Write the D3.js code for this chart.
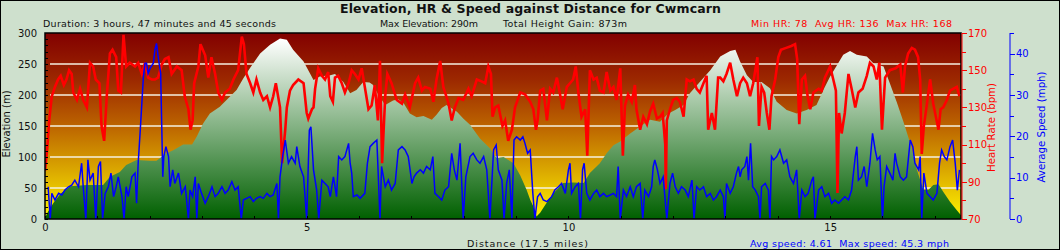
<!DOCTYPE html>
<html>
<head>
<meta charset="utf-8">
<script src="https://cdn.jsdelivr.net/npm/d3@7"></script>
<style>
body{margin:0;background:#fff}
svg{display:block;font-family:"DejaVu Sans",Verdana,sans-serif}
.tick line{shape-rendering:crispEdges}
</style>
</head>
<body>
<svg id="graph1"></svg>
<script>
// elevation profile (miles, metres)
var elevDist=[0,0.06,0.16,0.3,0.48,0.8,1.11,1.24,1.43,1.55,1.75,2.0,2.13,2.32,2.45,2.64,2.81,2.9,3.02,3.15,3.34,3.53,3.66,3.79,3.92,4.11,4.3,4.49,4.62,4.74,4.94,5.13,5.25,5.45,5.54,5.7,5.83,5.95,6.08,6.2,6.27,6.37,6.5,6.65,6.75,6.85,6.97,7.1,7.23,7.39,7.48,7.58,7.67,7.87,7.99,8.12,8.31,8.5,8.63,8.76,8.95,9.08,9.2,9.27,9.33,9.39,9.46,9.59,9.71,9.9,10.09,10.29,10.41,10.6,10.73,10.86,10.99,11.18,11.37,11.56,11.75,11.91,12.04,12.2,12.32,12.51,12.71,12.9,13.09,13.19,13.28,13.41,13.53,13.69,13.85,13.98,14.17,14.36,14.55,14.74,14.87,15.0,15.13,15.25,15.38,15.51,15.7,15.83,16.02,16.14,16.27,16.4,16.53,16.66,16.78,16.88,16.97,17.07,17.16,17.29,17.42,17.5]
var elevation=[2,12,26,41,53,55,55,68,76,87,95,94,94,106,111,120,120,133,154,170,181,197,208,227,244,267,281,291,289,273,254,224,230,232,234,221,203,208,221,220,216,200,184,191,193,187,170,164,166,160,168,179,184,173,162,152,130,114,98,100,90,70,47,31,20,4,10,27,41,58,59,58,74,90,106,119,125,138,149,160,157,170,176,184,203,221,240,262,271,273,254,232,221,221,211,189,176,170,176,184,208,230,248,265,271,265,262,251,246,219,189,157,122,79,47,47,55,56,44,28,14,6]

// heart rate (miles, bpm)
var hrDist=[0,0.04,0.08,0.13,0.19,0.25,0.3,0.36,0.41,0.46,0.51,0.54,0.61,0.67,0.73,0.8,0.86,0.92,0.97,1.04,1.08,1.13,1.18,1.24,1.29,1.36,1.4,1.45,1.5,1.55,1.62,1.72,1.78,1.85,1.91,1.97,2.04,2.1,2.16,2.23,2.29,2.36,2.42,2.52,2.61,2.67,2.74,2.78,2.82,2.85,2.93,2.97,3.06,3.12,3.18,3.25,3.31,3.38,3.44,3.53,3.6,3.69,3.76,3.8,3.85,3.92,3.98,4.04,4.11,4.17,4.24,4.3,4.36,4.41,4.49,4.53,4.59,4.62,4.68,4.74,4.84,4.94,5.0,5.03,5.1,5.13,5.16,5.22,5.29,5.35,5.41,5.45,5.5,5.54,5.6,5.67,5.73,5.8,5.86,5.92,5.99,6.05,6.11,6.18,6.24,6.3,6.36,6.4,6.44,6.5,6.54,6.62,6.72,6.82,6.88,6.97,7.07,7.13,7.2,7.26,7.36,7.42,7.48,7.55,7.61,7.71,7.77,7.83,7.9,7.99,8.09,8.15,8.25,8.34,8.41,8.47,8.52,8.55,8.6,8.66,8.74,8.79,8.85,8.92,8.98,9.08,9.17,9.27,9.33,9.38,9.41,9.46,9.52,9.59,9.65,9.71,9.78,9.84,9.89,9.97,10.03,10.09,10.14,10.19,10.25,10.32,10.36,10.41,10.48,10.54,10.6,10.67,10.73,10.8,10.86,10.92,10.99,11.04,11.08,11.14,11.21,11.27,11.3,11.37,11.43,11.5,11.56,11.62,11.69,11.75,11.8,11.85,11.86,11.88,11.94,12.0,12.07,12.13,12.2,12.26,12.32,12.39,12.45,12.51,12.58,12.64,12.67,12.74,12.8,12.86,12.9,12.96,13.02,13.09,13.15,13.22,13.28,13.34,13.41,13.47,13.53,13.61,13.64,13.69,13.74,13.79,13.84,13.88,13.95,14.01,14.06,14.16,14.26,14.33,14.37,14.41,14.46,14.52,14.57,14.62,14.68,14.78,14.84,14.9,15.0,15.06,15.11,15.14,15.17,15.22,15.28,15.35,15.41,15.48,15.54,15.62,15.7,15.76,15.83,15.89,15.94,15.99,16.05,16.14,16.25,16.34,16.39,16.43,16.49,16.56,16.62,16.68,16.72,16.75,16.79,16.84,16.91,16.97,17.02,17.07,17.11,17.16,17.23,17.29,17.35,17.42,17.47]
var heartRate=[96,107,123,136,141,145,147,142,145,150,148,138,134,140,134,130,154,152,145,143,120,112,136,159,161,157,139,138,169,152,154,152,154,148,154,146,145,145,146,153,156,157,148,152,150,136,129,118,123,143,152,164,158,146,157,148,138,134,138,140,145,150,168,164,148,143,138,145,138,134,136,130,136,143,130,100,118,130,139,142,145,143,127,124,129,130,140,151,147,145,149,136,133,146,147,143,138,143,150,148,145,151,141,129,131,142,123,155,100,136,148,143,134,132,137,130,143,146,139,141,140,133,145,155,141,132,123,130,135,134,140,136,145,144,143,152,148,125,130,131,120,123,112,118,130,138,137,133,129,118,123,139,140,123,140,138,146,137,129,141,143,145,152,138,125,129,104,150,145,146,139,138,149,139,141,134,151,104,131,137,133,142,129,118,125,121,128,132,124,125,127,110,86,123,129,134,135,133,125,145,144,145,140,138,143,147,118,127,118,146,146,144,148,154,145,136,143,146,143,136,143,157,120,141,138,127,118,136,145,157,161,162,163,164,156,121,145,147,136,129,138,140,139,146,152,145,139,84,127,116,127,148,140,130,138,140,147,154,152,145,154,118,146,150,151,153,138,152,159,162,161,157,145,105,120,130,145,132,125,118,129,130,134,139,140,141,136]

// average speed (miles, mph)
var speedDist=[0.06,0.1,0.13,0.19,0.26,0.32,0.38,0.45,0.51,0.57,0.64,0.7,0.73,0.78,0.82,0.86,0.92,0.97,1.02,1.06,1.1,1.15,1.21,1.26,1.31,1.36,1.4,1.47,1.51,1.55,1.59,1.66,1.72,1.75,1.78,1.82,1.85,1.88,1.91,1.94,1.97,2.01,2.07,2.1,2.13,2.17,2.21,2.25,2.27,2.31,2.36,2.39,2.44,2.48,2.55,2.61,2.68,2.74,2.77,2.82,2.87,2.9,2.93,2.99,3.06,3.12,3.19,3.25,3.31,3.38,3.44,3.5,3.57,3.63,3.69,3.75,3.79,3.85,3.92,3.98,4.04,4.11,4.17,4.24,4.3,4.36,4.43,4.46,4.49,4.54,4.59,4.65,4.71,4.78,4.81,4.87,4.94,5.0,5.05,5.08,5.13,5.19,5.23,5.29,5.35,5.41,5.45,5.51,5.57,5.61,5.67,5.73,5.8,5.83,5.86,5.89,5.96,6.02,6.11,6.16,6.21,6.27,6.34,6.4,6.43,6.5,6.56,6.62,6.69,6.75,6.82,6.88,6.94,7.01,7.05,7.1,7.17,7.23,7.29,7.36,7.41,7.45,7.52,7.58,7.64,7.71,7.77,7.82,7.87,7.93,7.99,8.04,8.12,8.18,8.25,8.31,8.38,8.44,8.5,8.57,8.62,8.66,8.73,8.77,8.82,8.87,8.92,8.96,9.01,9.08,9.13,9.17,9.22,9.27,9.32,9.36,9.41,9.46,9.52,9.59,9.68,9.74,9.81,9.87,9.94,10.0,10.03,10.06,10.13,10.19,10.23,10.27,10.3,10.35,10.41,10.48,10.54,10.6,10.67,10.73,10.8,10.86,10.92,10.95,10.99,11.05,11.11,11.18,11.24,11.3,11.37,11.42,11.46,11.53,11.59,11.62,11.65,11.7,11.75,11.81,11.88,11.94,11.99,12.04,12.1,12.16,12.23,12.29,12.36,12.4,12.45,12.51,12.58,12.64,12.71,12.77,12.83,12.9,12.96,12.99,13.02,13.09,13.15,13.21,13.25,13.28,13.31,13.37,13.41,13.44,13.48,13.52,13.57,13.63,13.66,13.69,13.76,13.82,13.85,13.88,13.92,13.98,14.04,14.11,14.17,14.23,14.3,14.36,14.41,14.46,14.52,14.58,14.65,14.68,14.71,14.78,14.84,14.9,14.97,15.03,15.09,15.16,15.22,15.28,15.35,15.41,15.48,15.51,15.54,15.6,15.65,15.7,15.76,15.81,15.86,15.9,15.95,16.0,16.03,16.08,16.14,16.2,16.24,16.27,16.34,16.4,16.46,16.53,16.58,16.62,16.69,16.72,16.75,16.79,16.85,16.91,16.97,17.04,17.09,17.13,17.18,17.23,17.29,17.34,17.39,17.43,17.47]
var speed=[7.8,0,6.2,4.6,6.2,5.8,7.0,7.8,8.2,9.4,7.8,13.5,7.8,0,14.3,9.4,11.1,0,12.7,13.9,0,6.2,7.8,11.1,5.4,7.8,10.2,5.4,0,7.8,5.4,10.2,11.1,3.8,13.5,21.5,28.0,34.4,37.7,37.7,35.2,36.5,37.7,40.9,42.5,38.5,35.2,10.2,15.1,17.5,15.1,7.8,11.9,8.6,11.1,6.2,7.8,0,7.0,5.4,10.2,0,8.6,6.2,3.8,5.4,7.8,5.4,6.2,7.8,6.2,7.0,9.0,7.0,7.8,0,4.6,5.0,5.4,4.2,5.0,5.4,5.0,6.2,5.4,5.8,8.6,0,10.2,15.1,19.1,13.5,15.1,13.5,17.5,12.7,10.2,0,21.5,22.3,11.9,7.0,0,9.4,8.6,7.8,5.4,10.2,5.4,15.1,14.3,15.1,18.3,13.5,11.1,5.4,5.8,5.0,6.2,13.5,17.5,18.3,19.1,0,12.7,7.8,9.4,7.0,8.6,16.7,17.5,16.7,15.1,8.6,10.2,11.1,11.9,11.1,12.7,11.9,15.1,6.2,5.4,4.6,7.0,7.8,15.9,11.9,9.4,18.3,0,10.2,15.1,15.9,14.3,13.5,15.1,11.9,0,16.7,17.9,11.9,9.4,0,8.6,11.9,0,19.1,19.9,19.1,19.9,18.3,15.9,16.7,6.2,0,5.4,6.2,4.6,4.2,5.4,7.0,7.8,8.6,6.2,11.9,13.5,6.2,7.8,8.6,0,11.9,13.5,6.2,4.6,6.2,7.0,5.4,6.2,5.4,5.8,6.2,5.4,12.7,0,7.0,5.4,7.8,5.4,7.8,8.6,0,7.0,5.4,7.8,12.7,14.3,11.9,8.6,10.2,0,8.6,11.1,7.8,6.2,7.8,7.0,5.4,9.4,0,7.8,7.0,7.8,5.4,6.2,4.6,5.4,7.0,5.4,0,8.6,6.2,7.8,11.1,12.7,10.2,11.9,12.7,15.1,9.4,18.3,7.8,7.0,5.4,0,7.8,8.6,7.0,0,15.1,14.3,15.1,16.7,13.5,14.3,10.2,8.6,11.9,0,7.0,5.4,6.2,9.4,10.2,0,7.0,7.8,5.4,6.2,3.8,4.6,3.8,4.6,5.4,4.6,7.0,15.1,17.5,9.4,10.2,12.7,7.8,13.5,20.7,16.7,14.3,15.1,0,7.8,12.7,11.1,9.4,15.9,13.5,10.2,9.4,10.2,19.1,17.5,13.5,11.9,15.1,0,11.1,6.2,5.4,4.6,6.2,13.5,16.7,15.1,14.3,17.5,19.1,13.5,7.0,11.9]

var distTicks=[0,5,10,15]
var elevTicks=[0,50,100,150,200,250,300]
var gridTicks=[50,100,150,200,250]
var hrTicks=[70,90,110,130,150,170]
var hrMinor=[80,100,120,140,160]
var speedTicks=[0,10,20,30,40]
var speedMinor=[5,15,25,35,45]

var screen={width:1060,height:250}
var plot={left:45,right:961,top:33,bottom:219}

var initGraph=function()
    {
        var svg=d3.select("#graph1")
            .attr("width",screen.width)
            .attr("height",screen.height)

        svg.append("rect")
            .attr("x",0.5).attr("y",0.5)
            .attr("width",screen.width-1).attr("height",screen.height-1)
            .attr("fill","#cee0cd")
            .attr("stroke","#000")

        var xScale=d3.scaleLinear()
            .domain([0,17.5])
            .range([plot.left,plot.right])
        var yElev=d3.scaleLinear()
            .domain([0,300])
            .range([plot.bottom,plot.top])
        var yHR=d3.scaleLinear()
            .domain([70,170])
            .range([plot.bottom,plot.top])
        var ySpeed=d3.scaleLinear()
            .domain([0,45])
            .range([plot.bottom,plot.top])

        drawBackground(svg,yElev)
        drawElevation(svg,xScale,yElev)
        drawLines(svg,xScale,yHR,ySpeed)
        drawAxes(svg,xScale,yElev,yHR,ySpeed)
        drawLabels(svg)
    }

var drawBackground=function(svg,yElev)
    {
        var defs=svg.append("defs")
        var bg=defs.append("linearGradient")
            .attr("id","bgGrad")
            .attr("gradientUnits","userSpaceOnUse")
            .attr("x1",0).attr("x2",0)
            .attr("y1",plot.top).attr("y2",plot.bottom)
        bg.append("stop").attr("offset",0).attr("stop-color","#820000")
        bg.append("stop").attr("offset",0.25).attr("stop-color","#9c2800")
        bg.append("stop").attr("offset",0.5).attr("stop-color","#bc6400")
        bg.append("stop").attr("offset",0.75).attr("stop-color","#dcab00")
        bg.append("stop").attr("offset",1).attr("stop-color","#fff400")

        var eg=defs.append("linearGradient")
            .attr("id","elevGrad")
            .attr("gradientUnits","userSpaceOnUse")
            .attr("x1",0).attr("x2",0)
            .attr("y1",yElev(290)).attr("y2",yElev(0))
        eg.append("stop").attr("offset",0).attr("stop-color","#ffffff")
        eg.append("stop").attr("offset",1).attr("stop-color","#006000")

        defs.append("clipPath").attr("id","plotClip")
            .append("rect")
            .attr("x",plot.left).attr("y",plot.top)
            .attr("width",plot.right-plot.left).attr("height",plot.bottom-plot.top)

        svg.append("rect")
            .attr("x",plot.left).attr("y",plot.top)
            .attr("width",plot.right-plot.left).attr("height",plot.bottom-plot.top)
            .attr("fill","url(#bgGrad)")

        svg.append("g")
            .selectAll("line")
            .data(gridTicks)
            .enter()
            .append("line")
            .attr("x1",plot.left+5)
            .attr("x2",plot.right)
            .attr("y1",function(d){return yElev(d)})
            .attr("y2",function(d){return yElev(d)})
            .attr("stroke","#f4f0e0")
            .attr("stroke-width",1.5)
    }

var drawElevation=function(svg,xScale,yElev)
    {
        var pts=elevDist.map(function(d,i){return {d:d,v:elevation[i]}})
        var area=d3.area()
            .x(function(p){return xScale(p.d)})
            .y0(yElev(0))
            .y1(function(p){return yElev(p.v)})
        svg.append("path")
            .datum(pts)
            .attr("clip-path","url(#plotClip)")
            .attr("d",area)
            .attr("fill","url(#elevGrad)")
    }

var drawLines=function(svg,xScale,yHR,ySpeed)
    {
        var hr=hrDist.map(function(d,i){return {d:d,v:heartRate[i]}})
        var sp=speedDist.map(function(d,i){return {d:d,v:speed[i]}})
        var g=svg.append("g").attr("clip-path","url(#plotClip)")

        g.append("path")
            .datum(hr)
            .attr("d",d3.line()
                .x(function(p){return xScale(p.d)})
                .y(function(p){return yHR(p.v)}))
            .attr("fill","none")
            .attr("stroke","#ff0000")
            .attr("stroke-width",2.6)

        g.append("path")
            .datum(sp)
            .attr("d",d3.line()
                .x(function(p){return xScale(p.d)})
                .y(function(p){return ySpeed(p.v)}))
            .attr("fill","none")
            .attr("stroke","#0000ff")
            .attr("stroke-width",1.5)
    }

var drawAxes=function(svg,xScale,yElev,yHR,ySpeed)
    {
        // plot frame
        svg.append("rect")
            .attr("x",plot.left).attr("y",plot.top)
            .attr("width",plot.right-plot.left).attr("height",plot.bottom-plot.top)
            .attr("fill","none")
            .attr("stroke","#000")
            .attr("stroke-width",1.5)

        // elevation axis
        var left=svg.append("g")
            .attr("transform","translate("+plot.left+",0)")
            .call(d3.axisLeft(yElev).tickValues(elevTicks).tickSize(0).tickPadding(8))
        svg.append("g")
            .attr("transform","translate("+plot.left+",0)")
            .call(d3.axisRight(yElev).tickValues(d3.range(0,300,10)).tickSize(3).tickFormat(""))

        // distance axis
        var bottom=svg.append("g")
            .attr("transform","translate(0,"+plot.bottom+")")
            .call(d3.axisBottom(xScale).tickValues(distTicks).tickSize(0).tickPadding(5))
        svg.append("g")
            .attr("transform","translate(0,"+plot.bottom+")")
            .call(d3.axisTop(xScale).tickValues(d3.range(0,18,1)).tickSize(3).tickFormat(""))

        // heart rate axis
        var hrAxis=svg.append("g")
            .attr("transform","translate("+(plot.right+1)+",0)")
            .call(d3.axisRight(yHR).tickValues(hrTicks).tickSize(5).tickPadding(1))
        svg.append("g")
            .attr("transform","translate("+(plot.right+1)+",0)")
            .call(d3.axisRight(yHR).tickValues(hrMinor).tickSize(4).tickFormat(""))
            .attr("class","hrMinor")

        // speed axis
        var spAxis=svg.append("g")
            .attr("transform","translate(1010,0)")
            .call(d3.axisRight(ySpeed).tickValues(speedTicks).tickSize(5).tickPadding(1))
        svg.append("g")
            .attr("transform","translate(1010,0)")
            .call(d3.axisRight(ySpeed).tickValues(speedMinor).tickSize(4).tickFormat(""))
            .attr("class","spMinor")

        svg.selectAll(".domain").attr("stroke","none")
        hrAxis.select(".domain").attr("stroke","#ff0000").attr("d","M0,"+plot.top+"V"+plot.bottom)
        spAxis.select(".domain").attr("stroke","#0000ff").attr("d","M0,"+plot.top+"V"+plot.bottom)

        svg.selectAll(".tick text").attr("font-family","DejaVu Sans").attr("font-size",10)
        left.selectAll(".tick text").attr("fill","#111")
        bottom.selectAll(".tick text").attr("fill","#111")
        hrAxis.selectAll("text").attr("fill","#ff0000")
        hrAxis.selectAll("line").attr("stroke","#ff0000")
        svg.select(".hrMinor").selectAll("line").attr("stroke","#ff0000")
        spAxis.selectAll("text").attr("fill","#0000ff")
        spAxis.selectAll("line").attr("stroke","#0000ff")
        svg.select(".spMinor").selectAll("line").attr("stroke","#0000ff")
    }

// header and footer texts: [text, x, y, width, colour]
var headTexts=[
    ["Duration: 3 hours, 47 minutes and 45 seconds",43,26.5,233,"#111"],
    ["Max Elevation: 290m",380,26.5,98,"#111"],
    ["Total Height Gain: 873m",503,26.5,124,"#111"],
    ["Min HR: 78\u00a0 Avg HR: 136\u00a0 Max HR: 168",751,26.5,201,"#ff0000"],
    ["Distance (17.5 miles)",467,247,121,"#111"],
    ["Avg speed: 4.61\u00a0 Max speed: 45.3 mph",750,247,199,"#0000ff"]
]

var drawLabels=function(svg)
    {
        var labels=svg.append("g")
            .attr("font-family","DejaVu Sans")

        labels.append("text")
            .text("Elevation, HR & Speed against Distance for Cwmcarn")
            .attr("x",340).attr("y",12.5)
            .attr("textLength",381)
            .attr("lengthAdjust","spacing")
            .attr("font-size",12.5)
            .attr("font-weight","bold")
            .attr("fill","#111")

        labels.selectAll(".info")
            .data(headTexts)
            .enter()
            .append("text")
            .attr("class","info")
            .text(function(t){return t[0]})
            .attr("x",function(t){return t[1]})
            .attr("y",function(t){return t[2]})
            .attr("textLength",function(t){return t[3]})
            .attr("lengthAdjust","spacing")
            .attr("font-size",9.5)
            .attr("fill",function(t){return t[4]})

        labels.append("text")
            .text("Elevation (m)")
            .attr("transform","translate(10,124) rotate(-90)")
            .attr("text-anchor","middle")
            .attr("font-size",10).attr("fill","#111")
        labels.append("text")
            .text("Heart Rate (bpm)")
            .attr("transform","translate(995,127.5) rotate(-90)")
            .attr("text-anchor","middle")
            .attr("font-size",10.2).attr("fill","#ff0000")
        labels.append("text")
            .text("Average Speed (mph)")
            .attr("transform","translate(1045,127) rotate(-90)")
            .attr("text-anchor","middle")
            .attr("font-size",10.2).attr("fill","#0000ff")
    }

initGraph()
</script>
</body>
</html>
